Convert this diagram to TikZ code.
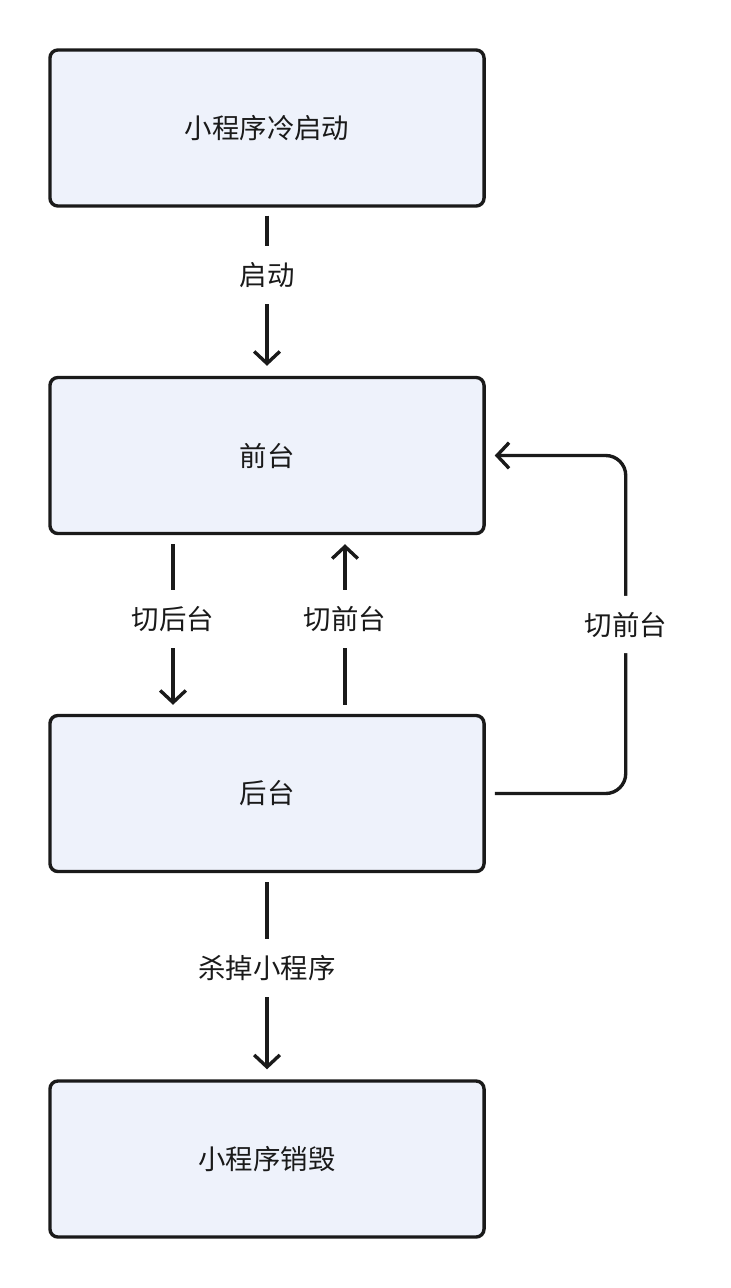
\documentclass[tikz,border=0pt]{standalone}
\usepackage{fontspec}
\setmainfont{Noto Sans CJK SC}
\usepackage{xcolor}
\usetikzlibrary{positioning,arrows.meta,calc}

\definecolor{boxfill}{HTML}{EEF2FB}
\definecolor{ink}{HTML}{1A1A1A}

\begin{document}
\begin{tikzpicture}[
    x=0.025cm, y=-0.025cm,
    >={Straight Barb[length=3mm,width=6.4mm,line width=2.4pt]},
    state/.style={draw=ink, fill=boxfill, rounded corners=2mm, line width=2.4pt,
                  minimum width=10.85cm, minimum height=3.9cm, text=ink,
                  font=\fontsize{19.5}{23}\selectfont},
    lbl/.style={fill=white, text=ink, inner xsep=2mm, inner ysep=4mm,
                font=\fontsize{19.5}{23}\selectfont},
    flow/.style={->, draw=ink, line width=2.4pt},
  ]
    \useasboundingbox (0,0) rectangle (730,1288);
    \node[state] (cold) at (267,128)    {小程序冷启动};
    \node[state] (fg)   at (267,455.5)  {前台};
    \node[state] (bg)   at (267,793.5)  {后台};
    \node[state] (kill) at (267,1159)   {小程序销毁};
    \draw[flow, shorten <=2mm, shorten >=2.5mm] (cold) -- node[lbl, pos=0.4] {启动} (fg);
    \draw[flow, shorten <=2.25mm, shorten >=2.25mm]
      ($(fg.south)+(-94,0)$) -- node[lbl, pos=0.47] {切后台} ($(bg.north)+(-94,0)$);
    \draw[flow, shorten <=2.25mm, shorten >=2.25mm]
      ($(bg.north)+(78,0)$) -- node[lbl, pos=0.53] {切前台} ($(fg.south)+(78,0)$);
    % 后台直接回到前台
    \draw[flow, rounded corners=5mm, shorten <=2.25mm, shorten >=2.25mm]
      (bg.east) -- ($(bg.east)+(140,0)$) -- node[lbl] {切前台} ($(fg.east)+(140,0)$) -- (fg.east);
    \draw[flow, shorten <=2.25mm, shorten >=2.5mm] (bg) -- node[lbl, pos=0.46] {杀掉小程序} (kill);
\end{tikzpicture}
\end{document}
